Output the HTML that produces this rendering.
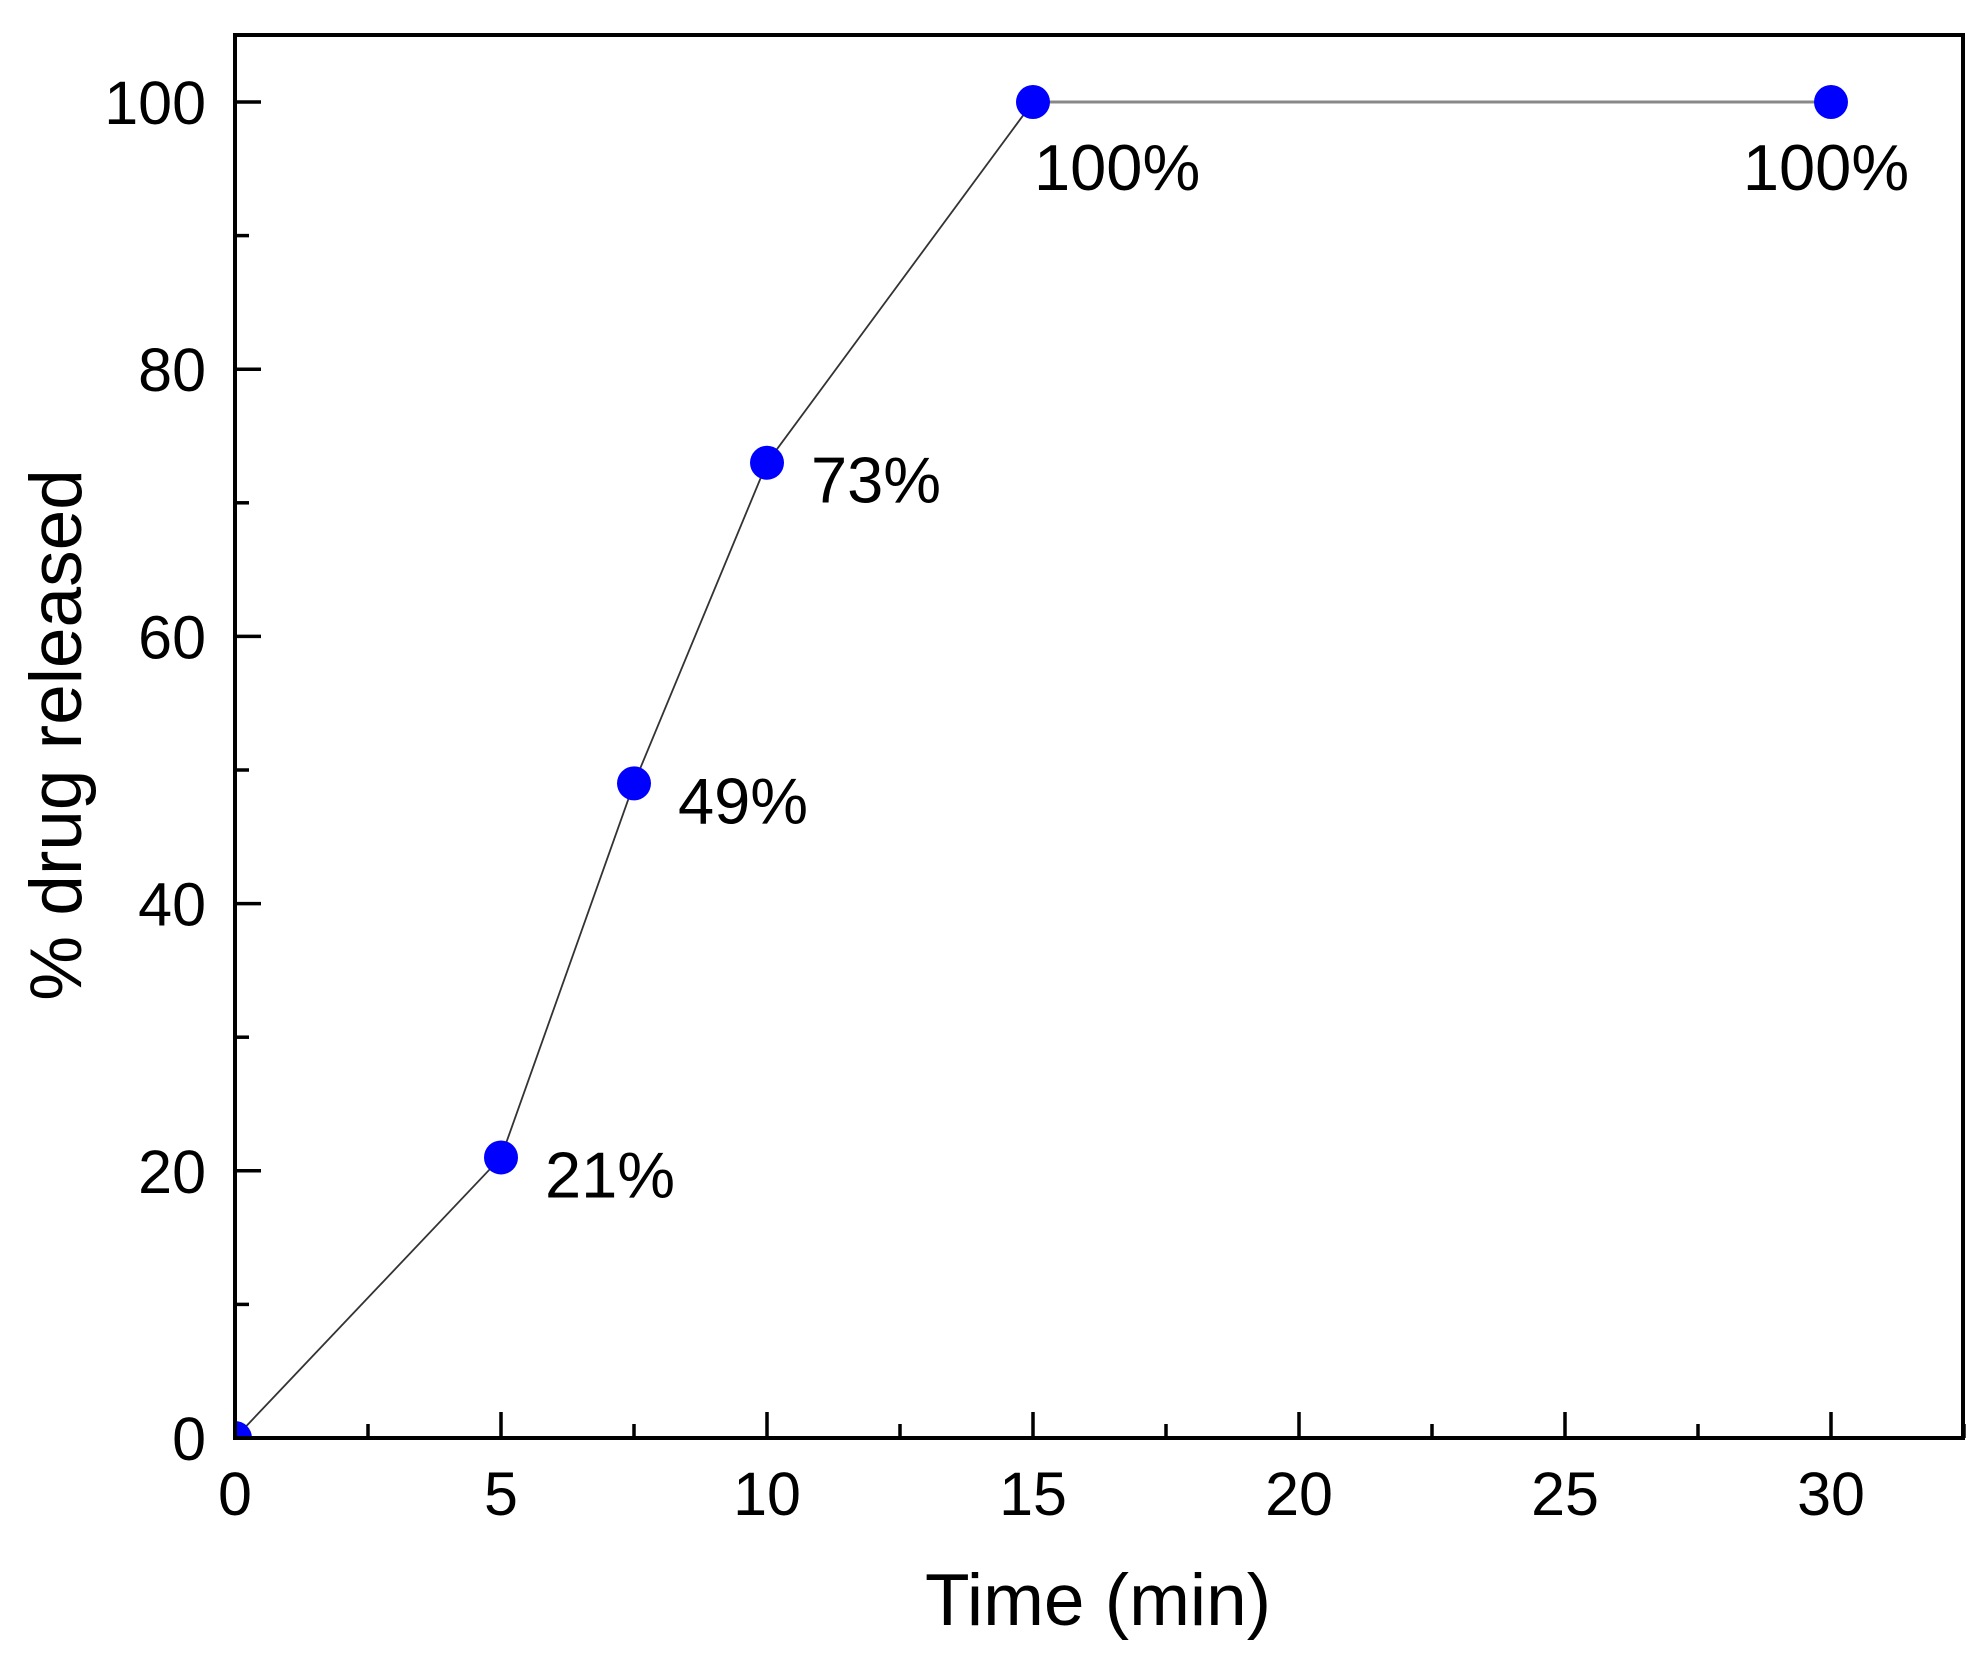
<!DOCTYPE html>
<html><head><meta charset="utf-8"><style>
html,body{margin:0;padding:0;background:#fff}
svg{display:block;font-family:"Liberation Sans",Arial,sans-serif}
</style></head><body>
<svg id="chart" width="1984" height="1665" viewBox="0 0 1984 1665">
<defs><clipPath id="clip"><rect x="235" y="35" width="1728" height="1403"/></clipPath></defs>
<g id="plot"></g>
</svg>
<script>
const times = [0, 5, 7.5, 10, 15, 30];
const released = [0, 21, 49, 73, 100, 100];
const pointLabels = ["", "21%", "49%", "73%", "100%", "100%"];
const labelBelow = [false, false, false, false, true, true];
const xTicks = [0, 5, 10, 15, 20, 25, 30];
const yTicks = [0, 20, 40, 60, 80, 100];

const L = 235, R = 1963, T = 35, B = 1438;
const x0px = 235, xPer = 53.2;
const y0px = 1438, yPer = 13.36;
const X = v => x0px + v * xPer;
const Y = v => y0px - v * yPer;
const NS = "http://www.w3.org/2000/svg";
const g = document.getElementById('plot');
function mk(tag, attrs, parent) {
  const e = document.createElementNS(NS, tag);
  for (const k in attrs) e.setAttribute(k, attrs[k]);
  (parent || g).appendChild(e);
  return e;
}
const clipG = mk('g', {'clip-path': 'url(#clip)'});


for (let i = 0; i < times.length - 1; i++) {
  const flat = released[i] === released[i + 1];
  const ln = mk('line', {x1: X(times[i]), y1: Y(released[i]), x2: X(times[i + 1]), y2: Y(released[i + 1]), stroke: flat ? '#888' : '#333', 'stroke-width': flat ? 3 : 1.8}, clipG);
  
  
}
for (let v = 0; v <= 32.5; v += 2.5) {
  const major = v % 5 === 0;
  const t = mk('line', {x1: X(v), x2: X(v), y1: B, y2: B - (major ? 26 : 14), stroke: '#000', 'stroke-width': 3.5});
  
  
}
for (let v = 0; v <= 100; v += 10) {
  const major = v % 20 === 0;
  const t = mk('line', {x1: L, x2: L + (major ? 26 : 14), y1: Y(v), y2: Y(v), stroke: '#000', 'stroke-width': 3.5});
  
  
}
xTicks.forEach(v => {
  const t = mk('text', {x: X(v), y: 1515, 'text-anchor': 'middle', 'font-size': 61, fill: '#000'});
  t.textContent = v;
  
  
});
yTicks.forEach(v => {
  const t = mk('text', {x: 206, y: Y(v) + 22, 'text-anchor': 'end', 'font-size': 61, fill: '#000'});
  t.textContent = v;
  
  
});
const fr = mk('rect', {x: L, y: T, width: R - L, height: B - T, fill: 'none', stroke: '#000', 'stroke-width': 4});


times.forEach((t, i) => {
  const c = mk('circle', {cx: X(t), cy: Y(released[i]), r: 17, fill: '#0000ff'}, clipG);
  
  
  if (pointLabels[i]) {
    const below = labelBelow[i];
    const last = i === times.length - 1;
    const lb = mk('text', {
      x: below ? (last ? X(t) - 5 : X(t) + 1) : X(t) + 44,
      y: below ? Y(released[i]) + 88 : Y(released[i]) + 40,
      'text-anchor': below && last ? 'middle' : 'start',
      'font-size': 65, fill: '#000'});
    lb.textContent = pointLabels[i];
    
    
  }
});
const xt = mk('text', {x: 1098, y: 1625, 'text-anchor': 'middle', 'font-size': 73, fill: '#000'});
xt.textContent = 'Time (min)';


const yt = mk('text', {x: 0, y: 0, 'text-anchor': 'middle', 'font-size': 73, fill: '#000', transform: 'translate(81,735) rotate(-90)'});
yt.textContent = '% drug released';


</script>
</body></html>
